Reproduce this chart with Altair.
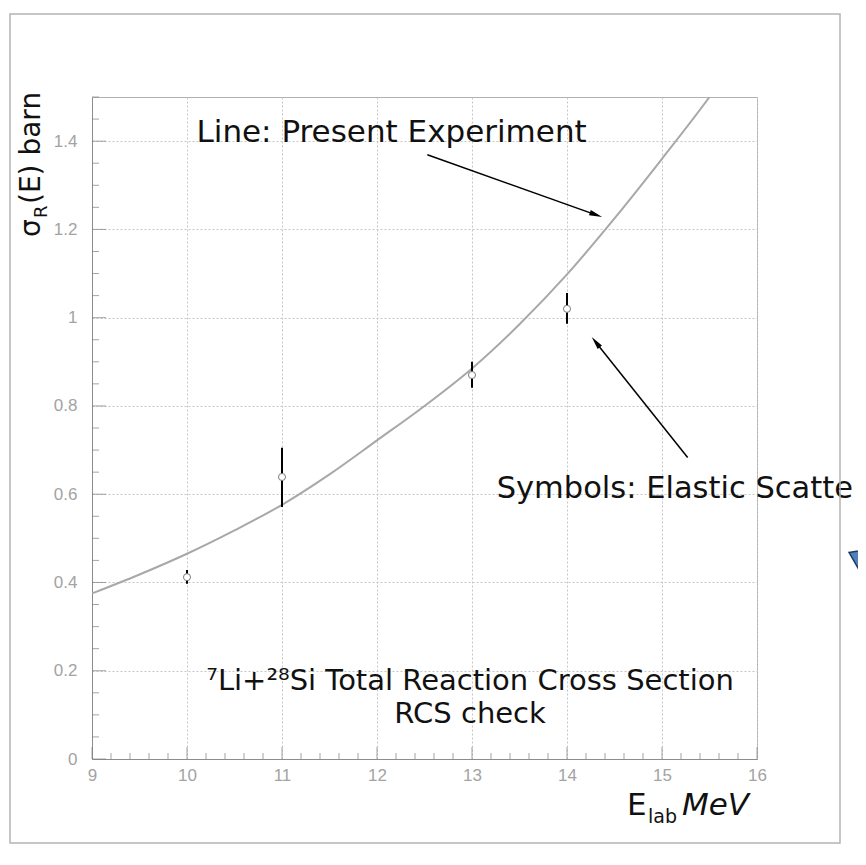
import math
import altair as alt
import pandas as pd

# ---------------- data ----------------
# smooth line: "Present Experiment"
curve_E = [9.0, 9.5, 10.0, 10.5, 11.0, 11.5, 12.0, 12.5, 13.0, 13.5, 14.0, 14.5, 15.0, 15.5, 15.7]
curve_s = [0.375, 0.418, 0.465, 0.518, 0.576, 0.645, 0.722, 0.800, 0.885, 0.985, 1.098, 1.225, 1.360, 1.500, 1.560]

# symbols: elastic scattering points with error bars
pts_E = [10, 11, 13, 14]
pts_s = [0.412, 0.639, 0.870, 1.020]
pts_lo = [0.397, 0.571, 0.841, 0.986]
pts_hi = [0.428, 0.705, 0.900, 1.056]

# axis ticks
x_major = [9, 10, 11, 12, 13, 14, 15, 16]
y_major = [0, 0.2, 0.4, 0.6, 0.8, 1.0, 1.2, 1.4]
x_minor = [round(9 + 0.2 * i, 2) for i in range(36) if i % 5 != 0]
y_minor = [round(0.05 * i, 2) for i in range(31) if i % 4 != 0]

# annotations (anchor in data units)
ann_line_text = ["Line: Present Experiment"]
ann_line_E = [10.10]
ann_line_s = [1.398]
ann_sym_text = ["Symbols: Elastic Scatte"]
ann_sym_E = [13.26]
ann_sym_s = [0.592]
ann_center_text = ["⁷Li+²⁸Si Total Reaction Cross Section", "RCS check"]
ann_center_E = [12.98, 12.98]
ann_center_s = [0.156, 0.082]

# arrows: tail -> tip (data units)
arr_E1 = [12.53, 15.27]
arr_s1 = [1.369, 0.683]
arr_E2 = [14.37, 14.26]
arr_s2 = [1.228, 0.956]

# decorative callout pointer (partially visible at right edge)
callout_E = [17.12]
callout_s = [0.430]

# ---------------- layout ----------------
W, H = 665, 662
XPX = W / 7.0
YPX = H / 1.5
FONT = "DejaVu Sans"

xs = alt.Scale(domain=[9, 16], nice=False, zero=False)
ys = alt.Scale(domain=[0, 1.5], nice=False, zero=False)

common_axis = dict(grid=True, gridDash=[2, 2], gridColor="#c6c6c6", gridWidth=1,
                   ticks=False, tickSize=0, labelFont="Liberation Sans", labelFontSize=17,
                   labelColor="#a3a3a3", domainColor="#8c8c8c", title=None, format="~g",
                   labelFlush=False)
xaxis = alt.Axis(values=x_major, labelPadding=8, **common_axis)
yaxis = alt.Axis(values=y_major, labelPadding=15, **common_axis)


def X(f):
    return alt.X(f, scale=xs, axis=xaxis)


def Y(f):
    return alt.Y(f, scale=ys, axis=yaxis)


curve_df = pd.DataFrame({"E": curve_E, "s": curve_s})
pts_df = pd.DataFrame({"E": pts_E, "s": pts_s, "lo": pts_lo, "hi": pts_hi})

curve = alt.Chart(curve_df).mark_line(color="#a8a8a8", strokeWidth=2, interpolate="monotone",
                                      clip=True).encode(x=X("E:Q"), y=Y("s:Q"))

errbars = alt.Chart(pts_df).mark_rule(color="black", strokeWidth=2).encode(
    x=X("E:Q"), y=Y("lo:Q"), y2="hi:Q")
points = alt.Chart(pts_df).mark_point(shape="circle", filled=True, fill="white", stroke="#7a7a7a",
                                      strokeWidth=1, size=50, opacity=1).encode(x=X("E:Q"), y=Y("s:Q"))

# inward ticks
xmaj_df = pd.DataFrame({"E": x_major, "s": [0] * len(x_major)})
xmin_df = pd.DataFrame({"E": x_minor, "s": [0] * len(x_minor)})
ymaj_df = pd.DataFrame({"E": [9] * len(y_major), "s": y_major})
ymin_df = pd.DataFrame({"E": [9] * len(y_minor), "s": y_minor})
tick_col = "#7d7d7d"
xt1 = alt.Chart(xmaj_df).mark_tick(orient="vertical", size=12, thickness=1, color=tick_col,
                                   yOffset=-6).encode(x=X("E:Q"), y=Y("s:Q"))
xt2 = alt.Chart(xmin_df).mark_tick(orient="vertical", size=6, thickness=1, color=tick_col,
                                   yOffset=-3).encode(x=X("E:Q"), y=Y("s:Q"))
yt1 = alt.Chart(ymaj_df).mark_tick(orient="horizontal", size=14, thickness=1, color=tick_col,
                                   xOffset=7).encode(x=X("E:Q"), y=Y("s:Q"))
yt2 = alt.Chart(ymin_df).mark_tick(orient="horizontal", size=7, thickness=1, color=tick_col,
                                   xOffset=3.5).encode(x=X("E:Q"), y=Y("s:Q"))

# annotations
annLine = alt.Chart(pd.DataFrame({"E": ann_line_E, "s": ann_line_s, "t": ann_line_text})).mark_text(
    align="left", baseline="alphabetic", font=FONT, fontSize=31, color="#111111").encode(
    x=X("E:Q"), y=Y("s:Q"), text="t:N")
annSym = alt.Chart(pd.DataFrame({"E": ann_sym_E, "s": ann_sym_s, "t": ann_sym_text})).mark_text(
    align="left", baseline="alphabetic", font=FONT, fontSize=30.5, color="#111111").encode(
    x=X("E:Q"), y=Y("s:Q"), text="t:N")
annC = alt.Chart(pd.DataFrame({"E": ann_center_E, "s": ann_center_s, "t": ann_center_text})).mark_text(
    align="center", baseline="alphabetic", font=FONT, fontSize=29, color="#111111").encode(
    x=X("E:Q"), y=Y("s:Q"), text="t:N")

# arrows
HEAD = 13.0
hx, hy, hang = [], [], []
for e1, s1, e2, s2 in zip(arr_E1, arr_s1, arr_E2, arr_s2):
    dx = (e2 - e1) * XPX
    dy = -(s2 - s1) * YPX
    L = math.hypot(dx, dy)
    ux, uy = dx / L, dy / L
    cx = e2 - (HEAD / 2) * ux / XPX
    cy = s2 + (HEAD / 2) * uy / YPX
    hx.append(cx)
    hy.append(cy)
    hang.append(math.degrees(math.atan2(dx, -dy)) % 360)
arr_df = pd.DataFrame({"E": arr_E1, "s": arr_s1, "E2": hx, "s2": hy})
head_df = pd.DataFrame({"E": hx, "s": hy, "ang": hang})
arrows = alt.Chart(arr_df).mark_rule(color="black", strokeWidth=1.5).encode(
    x=X("E:Q"), y=Y("s:Q"), x2="E2:Q", y2="s2:Q")
heads = alt.Chart(head_df).mark_point(shape="M0,-1L0.42,1L-0.42,1Z", filled=True, color="black",
                                      size=HEAD * HEAD, opacity=1).encode(
    x=X("E:Q"), y=Y("s:Q"), angle=alt.Angle("ang:Q", scale=None))

callout = alt.Chart(pd.DataFrame({"E": callout_E, "s": callout_s})).mark_point(
    shape="M-0.6,-0.7L0.9,-0.95L0.3,0.85Z", filled=True, fill="#4f81bd", stroke="#1f3a60",
    strokeWidth=1.5, size=48 * 48, opacity=1).encode(x=X("E:Q"), y=Y("s:Q"))

# outer frame
frame = alt.Chart(pd.DataFrame({"a": [0]})).mark_rect(fill="transparent", stroke="#b4b4b4",
                                                      strokeWidth=1.5).encode(
    x=alt.value(-82), x2=alt.value(748), y=alt.value(-83), y2=alt.value(746))

# axis titles with subscripts
one = pd.DataFrame({"a": [0]})
ytitle_main = alt.Chart(one).mark_text(text="σ", angle=270, align="left", baseline="alphabetic",
                                       font=FONT, fontSize=28, color="#111111").encode(
    x=alt.value(-52), y=alt.value(140))
ytitle_sub = alt.Chart(one).mark_text(text="R", angle=270, align="left", baseline="alphabetic",
                                      font=FONT, fontSize=18, color="#111111").encode(
    x=alt.value(-45), y=alt.value(121))
ytitle_rest = alt.Chart(one).mark_text(text="(E) barn", angle=270, align="left", baseline="alphabetic",
                                       font=FONT, fontSize=28, color="#111111").encode(
    x=alt.value(-52), y=alt.value(107))

xtitle_E = alt.Chart(one).mark_text(text="E", align="left", baseline="alphabetic", font=FONT,
                                    fontSize=31, color="#111111").encode(x=alt.value(535), y=alt.value(718))
xtitle_sub = alt.Chart(one).mark_text(text="lab", align="left", baseline="alphabetic", font=FONT,
                                      fontSize=19, color="#111111").encode(x=alt.value(556), y=alt.value(726))
xtitle_rest = alt.Chart(one).mark_text(text="MeV", align="left", baseline="alphabetic", font=FONT,
                                       fontSize=31, fontStyle="italic", color="#111111").encode(
    x=alt.value(590), y=alt.value(718))

chart = alt.layer(
    curve, xt1, xt2, yt1, yt2, errbars, points, annLine, annSym, annC, arrows, heads, callout, frame,
    ytitle_main, ytitle_sub, ytitle_rest, xtitle_E, xtitle_sub, xtitle_rest
).properties(
    width=W, height=H, autosize=alt.AutoSizeParams(type="none"),
    padding={"left": 84, "top": 89, "right": 101, "bottom": 86},
    background="white"
).configure_view(stroke="#b0b0b0", strokeWidth=1)

chart.save("out.html", embed_options={"renderer": "svg", "actions": False})
